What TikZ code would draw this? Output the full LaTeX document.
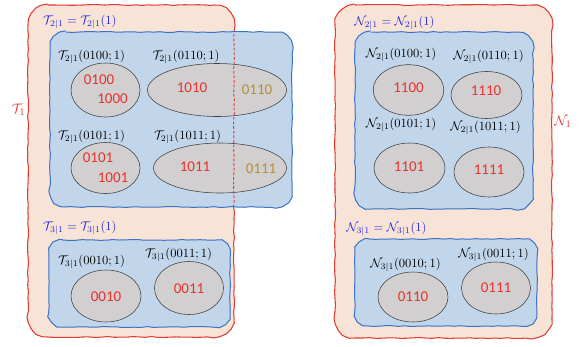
\documentclass[tikz,border=0pt]{standalone}
\usepackage{fontspec}
\newfontfamily\numfont{Carlito}
\usetikzlibrary{decorations.pathmorphing,shapes.geometric}
\definecolor{regfill}{HTML}{F7E4D7}
\definecolor{regedge}{HTML}{E03C31}
\definecolor{boxfill}{HTML}{C2D6EB}
\definecolor{boxedge}{HTML}{3B72C4}
\definecolor{ellfill}{HTML}{D1CFCF}
\definecolor{numred}{HTML}{E8312A}
\definecolor{numgold}{HTML}{B88F35}
\definecolor{lblblue}{HTML}{2424E0}
% rounded box path: x0 y0 (top left), x1 y1 (bottom right), corner radius in units
\newcommand\wboxpath[5]{({#1+#5},#2) -- ({#3-#5},#2)
  arc[start angle=90, end angle=0, radius={#5*0.8pt}] -- (#3,{#4-#5})
  arc[start angle=0, end angle=-90, radius={#5*0.8pt}] -- ({#1+#5},#4)
  arc[start angle=270, end angle=180, radius={#5*0.8pt}] -- (#1,{#2+#5})
  arc[start angle=180, end angle=90, radius={#5*0.8pt}] -- cycle}
\tikzset{
  wob/.style={decorate, decoration={random steps, segment length=5pt, amplitude=0.4pt}},
  region/.style={wob, fill=regfill, draw=regedge, line width=0.85pt, line join=round},
  regdash/.style={wob, draw=regedge, line width=0.75pt, dash pattern=on 2.2pt off 1.5pt},
  subbox/.style={wob, fill=boxfill, draw=boxedge, line width=0.8pt, line join=round},
  ell/.style={ellipse, draw=black!75, line width=0.45pt, fill=ellfill, inner sep=0pt},
  num/.style={text=numred, font=\numfont\fontsize{12}{14}\selectfont, inner sep=0pt},
  numg/.style={num, text=numgold},
  lbl/.style={inner sep=0pt, font=\fontsize{10}{12}\selectfont},
  blbl/.style={lbl, text=lblblue, anchor=west},
  rlbl/.style={inner sep=0pt, text=regedge, font=\fontsize{11}{13}\selectfont}
}
\begin{document}
\begin{tikzpicture}[x=0.8pt,y=-0.8pt]
\useasboundingbox (0,0) rectangle (581,346);
% ---------- left: T_1 ----------
\pgfmathsetseed{11}
\path[region] \wboxpath{28}{5}{234}{337}{20};
\pgfmathsetseed{21}
\path[subbox] \wboxpath{50}{32}{292}{207}{16};
\pgfmathsetseed{31}
\path[subbox] \wboxpath{49}{240}{230}{327}{14};

\node[rlbl] (T1) at (18.5,110) {$\mathcal{T}_1$};
\node[blbl] (T2) at (43,22) {$\mathcal{T}_{2|1}=\mathcal{T}_{2|1}(1)$};
\node[blbl] (T3) at (43,228) {$\mathcal{T}_{3|1}=\mathcal{T}_{3|1}(1)$};

\node[lbl] (la) at (91.5,57) {$\mathcal{T}_{2|1}(0100;1)$};
\node[lbl] (lb) at (186,57) {$\mathcal{T}_{2|1}(0110;1)$};
\node[lbl] (lc) at (91.5,137) {$\mathcal{T}_{2|1}(0101;1)$};
\node[lbl] (ld) at (187.5,137) {$\mathcal{T}_{2|1}(1011;1)$};
\node[lbl] (le) at (91.5,262) {$\mathcal{T}_{3|1}(0010;1)$};
\node[lbl] (lf) at (178.5,255) {$\mathcal{T}_{3|1}(0011;1)$};

\node[ell, minimum width=55.2pt, minimum height=43.2pt] (E1) at (105.5,90) {};
\node[ell, minimum width=111.2pt, minimum height=42.4pt] (E2) at (217,90) {};
\node[ell, minimum width=55.2pt, minimum height=40.8pt] (E3) at (105.5,168) {};
\node[ell, minimum width=106.4pt, minimum height=40pt] (E4) at (220,168) {};
\node[ell, minimum width=56pt, minimum height=41.6pt] (E5) at (106,296) {};
\node[ell, minimum width=55.2pt, minimum height=42.4pt] (E6) at (189,288) {};

% dashed red edge of T_1 where it runs inside the blue box
\begin{scope}
  \clip (51,34) rectangle (291,205);
  \pgfmathsetseed{11}
  \path[regdash] \wboxpath{28}{5}{234}{337}{20};
\end{scope}

\node[num] (a1) at (99,80) {0100};
\node[num] (a2) at (112.5,99) {1000};
\node[num] (b1) at (192,88) {1010};
\node[numg] (b2) at (257,90) {0110};
\node[num] (c1) at (98,158) {0101};
\node[num] (c2) at (113,178) {1001};
\node[num] (d1) at (195,167) {1011};
\node[numg] (d2) at (261,169) {0111};
\node[num] (e1) at (106,297) {0010};
\node[num] (f1) at (189,289) {0011};

% ---------- right: N_1 ----------
\pgfmathsetseed{41}
\path[region] \wboxpath{335}{5}{552}{338}{20};
\pgfmathsetseed{51}
\path[subbox] \wboxpath{355}{32}{533}{209}{16};
\pgfmathsetseed{61}
\path[subbox] \wboxpath{355}{239}{537}{326}{14};

\node[rlbl] (N1) at (563,122) {$\mathcal{N}_1$};
\node[blbl] (N2) at (354,23) {$\mathcal{N}_{2|1}=\mathcal{N}_{2|1}(1)$};
\node[blbl] (N3) at (346,229) {$\mathcal{N}_{3|1}=\mathcal{N}_{3|1}(1)$};

\node[lbl] (ma) at (401,55) {$\mathcal{N}_{2|1}(0100;1)$};
\node[lbl] (mb) at (488.5,57) {$\mathcal{N}_{2|1}(0110;1)$};
\node[lbl] (mc) at (401,125) {$\mathcal{N}_{2|1}(0101;1)$};
\node[lbl] (md) at (485.5,128) {$\mathcal{N}_{2|1}(1011;1)$};
\node[lbl] (me) at (405.5,265) {$\mathcal{N}_{3|1}(0010;1)$};
\node[lbl] (mf) at (493.5,255) {$\mathcal{N}_{3|1}(0011;1)$};

\node[ell, minimum width=56.5pt, minimum height=40.5pt] (F1) at (408.5,90) {};
\node[ell, minimum width=56.8pt, minimum height=37.6pt] (F2) at (486.5,95) {};
\node[ell, minimum width=56.8pt, minimum height=40pt] (F3) at (409.5,168) {};
\node[ell, minimum width=56pt, minimum height=40pt] (F4) at (489,172) {};
\node[ell, minimum width=56pt, minimum height=40pt] (F5) at (413,297) {};
\node[ell, minimum width=55.2pt, minimum height=41.6pt] (F6) at (496,288) {};

\node[num] (g1) at (408.5,88) {1100};
\node[num] (g2) at (486,91) {1110};
\node[num] (g3) at (409,167) {1101};
\node[num] (g4) at (489,170) {1111};
\node[num] (g5) at (413,297) {0110};
\node[num] (g6) at (496,288) {0111};
\end{tikzpicture}
\end{document}
